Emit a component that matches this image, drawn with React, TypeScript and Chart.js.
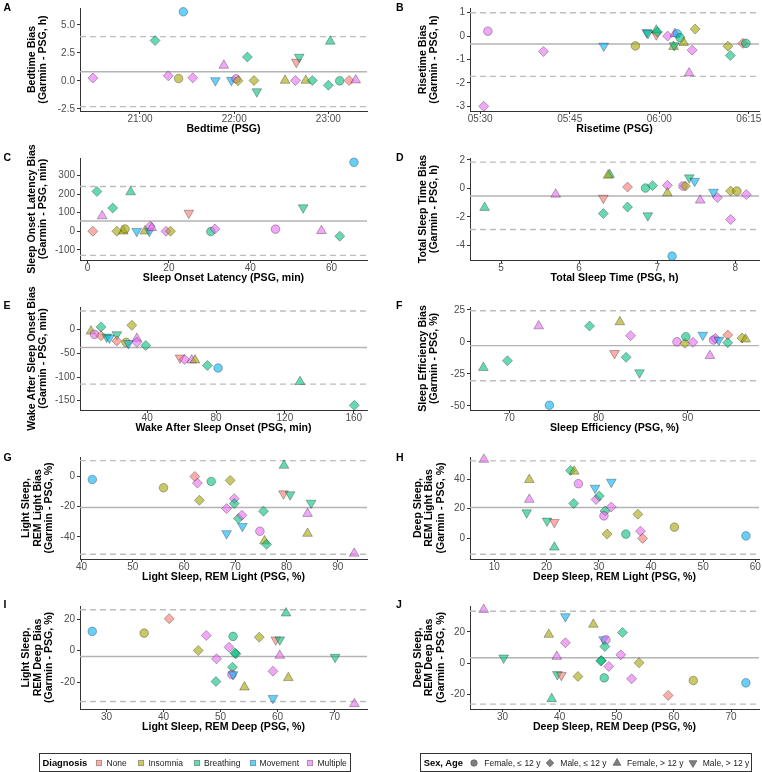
import React, { useEffect, useRef } from "react";
import { Chart, registerables } from "chart.js";

Chart.register(...registerables);

const FONT = "'Liberation Sans', Arial, Helvetica, sans-serif";
Chart.defaults.font.family = FONT;

// ---------- categories ----------
const DIAGNOSES = ["None", "Insomnia", "Breathing", "Movement", "Multiple"];
const SEX_AGE = ["Female, \u2264 12 y", "Male, \u2264 12 y", "Female, > 12 y", "Male, > 12 y"];

const N = 0, I = 1, B = 2, V = 3, M = 4; // diagnosis index
const F1 = 0, M1 = 1, F2 = 2, M2 = 3; // sex / age group index

type Pt = [number, number, number, number]; // [PSG value, bias, diagnosis, sex-age]

// ---------- data (A) Bedtime, hours of day ----------
const bedtimePts: Pt[] = [
  [20.5, 0.25, M, M1], [21.16, 3.6, B, M1], [21.46, 6.18, V, F1], [21.3, 0.45, M, M1],
  [21.41, 0.21, I, F1], [21.56, 0.27, M, M1], [21.8, 0.03, V, M2], [21.89, 1.38, M, F2],
  [21.97, 0.06, V, M2], [22.02, 0.18, M, F1], [22.04, 0.0, I, M1], [22.14, 2.13, B, M1],
  [22.21, 0.03, I, M1], [22.24, -0.96, B, M2], [22.54, 0.03, I, F2], [22.66, 1.68, N, M2],
  [22.69, 2.13, B, M2], [22.65, 0.03, M, M1], [22.76, 0.03, I, F2], [22.83, 0.03, B, M1],
  [23.02, 3.53, B, F2], [23.0, -0.39, B, M1], [23.12, 0.0, B, F1], [23.22, 0.03, N, M1],
  [23.29, 0.06, M, F2],
];
const bedtimeLoA = [0.82, 3.96, -2.31];
const bedtimeXRange = [20.363, 23.41];
const bedtimeYRange = [-2.7, 6.52];
const bedtimeXTicks = [21, 22, 23];
const bedtimeXLabels = ["21:00", "22:00", "23:00"];
const bedtimeYTicks = [-2.5, 0, 2.5, 5];
const bedtimeYLabels = ["-2.5", "0.0", "2.5", "5.0"];

// ---------- (B) Risetime, minutes after 05:00 ----------
const risetimePts: Pt[] = [
  [31.3, 0.21, M, F1], [30.6, -3.0, M, M1], [40.6, -0.66, M, M1], [50.7, -0.42, V, M2],
  [56.0, -0.42, I, F1], [57.9, 0.16, V, M2], [58.1, 0.12, B, M2], [59.5, 0.06, N, M2],
  [59.5, 0.25, B, F2], [59.7, 0.17, B, M1], [61.4, 0.0, M, M1], [62.6, 0.1, M, F2],
  [63.0, 0.1, V, F1], [62.4, -0.45, I, F2], [62.5, -0.4, B, M2], [63.5, -0.07, B, F1],
  [64.1, -0.28, I, F2], [66.0, 0.3, I, M1], [65.5, -0.6, M, M1], [65.0, -1.58, M, F2],
  [71.5, -0.43, I, M1], [71.9, -0.83, B, M1], [74.0, -0.31, N, M1], [74.5, -0.31, B, F1],
];
const risetimeLoA = [-0.34, 1.0, -1.72];
const risetimeXRange = [28.3, 76.7];
const risetimeYRange = [-3.2, 1.2];
const risetimeXTicks = [30, 45, 60, 75];
const risetimeXLabels = ["05:30", "05:45", "06:00", "06:15"];
const risetimeYTicks = [-3, -2, -1, 0, 1];
const risetimeYLabels = ["-3", "-2", "-1", "0", "1"];

// ---------- (C) Sleep onset latency ----------
const solPts: Pt[] = [
  [1.3, 0, N, M1], [2.3, 214, B, M1], [3.6, 82, M, F2], [6.2, 125, B, M1],
  [7.2, 0, I, M1], [8.8, 0, I, F2], [9.2, 12, I, F1], [10.6, 211, B, F2],
  [12.1, 0, V, M2], [14.1, 0, I, F2], [15.2, 0, V, M2], [15.4, 27, M, M1],
  [15.8, 18, M, F2], [19.3, 0, M, M1], [20.4, 0, I, M1], [24.9, 98, N, M2],
  [30.3, -2, B, F1], [31.3, 12, M, M1], [46.2, 11, M, F1], [53.0, 127, B, M2],
  [57.5, 2, M, F2], [62.0, -27, B, M1], [65.5, 371, V, F1],
];
const solLoA = [55, 241, -130];
const solXRange = [-1.85, 68.7];
const solYRange = [-155, 394];
const solXTicks = [0, 20, 40, 60];
const solXLabels = ["0", "20", "40", "60"];
const solYTicks = [-100, 0, 100, 200, 300];
const solYLabels = ["-100", "0", "100", "200", "300"];

// ---------- (D) Total sleep time ----------
const tstPts: Pt[] = [
  [4.79, -1.35, B, F2], [5.7, -0.42, M, F2], [6.31, -0.68, N, M2], [6.31, -1.77, B, M1],
  [6.39, 0.96, B, F2], [6.37, 0.91, I, F2], [6.62, 0.09, N, M1], [6.62, -1.31, B, M1],
  [6.85, 0.02, B, F1], [6.94, 0.19, B, M1], [6.88, -1.91, B, M2], [7.13, 0.21, M, M1],
  [7.13, -0.33, I, F2], [7.33, 0.16, M, F1], [7.36, 0.16, I, M1], [7.41, 0.75, B, M2],
  [7.48, 0.51, V, M2], [7.55, -0.84, M, F2], [7.19, -4.76, V, F1], [7.72, -0.26, V, M2],
  [7.77, -0.65, M, M1], [7.94, -0.19, I, M1], [8.02, -0.19, I, F1], [7.94, -2.19, M, M1],
  [8.14, -0.44, M, M1],
];
const tstLoA = [-0.54, 1.84, -2.89];
const tstXRange = [4.603, 8.303];
const tstYRange = [-5.03, 2.13];
const tstXTicks = [5, 6, 7, 8];
const tstXLabels = ["5", "6", "7", "8"];
const tstYTicks = [-4, -2, 0, 2];
const tstYLabels = ["-4", "-2", "0", "2"];

// ---------- (E) Wake after sleep onset ----------
const wasoPts: Pt[] = [
  [7.4, -3.6, I, F2], [9.4, -10, M, F1], [13.2, 5.6, B, M1], [13.2, -13, N, M1],
  [16.5, -15.5, B, M2], [18.1, -17.6, V, M2], [22.4, -10.5, B, M2], [22.4, -24, N, M1],
  [27.8, -27, I, F1], [29.1, -29, V, M2], [31.1, 9, I, M1], [34.0, -19, M, F2],
  [34.0, -27, M, M1], [39.2, -33.7, B, M1], [59.1, -59.6, N, M2], [61.7, -63, M, M1],
  [65.9, -64.5, M, F2], [67.8, -64.5, I, F2], [75.0, -75.7, B, M1], [81.2, -81, V, F1],
  [128.8, -110, B, F2], [160.3, -159.7, B, M1],
];
const wasoLoA = [-37.8, 39, -115];
const wasoXRange = [1.0, 167.7];
const wasoYRange = [-169.5, 47.5];
const wasoXTicks = [40, 80, 120, 160];
const wasoXLabels = ["40", "80", "120", "160"];
const wasoYTicks = [-150, -100, -50, 0];
const wasoYLabels = ["-150", "-100", "-50", "0"];

// ---------- (F) Sleep efficiency ----------
const sePts: Pt[] = [
  [67.1, -20.2, B, F2], [69.8, -14.8, B, M1], [73.3, 12.3, M, F2], [74.5, -49.6, V, F1],
  [79.0, 12.3, B, M1], [81.8, -9, N, M2], [82.4, 15.5, I, F2], [83.1, -12.1, B, M1],
  [83.6, 4.8, M, M1], [84.6, -24.1, B, M2], [88.8, 0, M, F1], [89.7, -1.2, I, M1],
  [89.8, 4, B, F1], [90.6, -0.4, M, M1], [92.5, -10.9, M, F2], [91.7, 5.3, V, M2],
  [92.9, 1.4, M, F1], [93.1, 2.7, M, M1], [93.5, 1.4, V, M2], [94.5, 5.3, N, M1],
  [94.5, -0.7, B, M1], [96.1, 3.0, I, M1], [96.5, 2.0, I, F2],
];
const seLoA = [-3.0, 24.3, -30.4];
const seXRange = [65.6, 98.0];
const seYRange = [-53.3, 27.2];
const seXTicks = [70, 80, 90];
const seXLabels = ["70", "80", "90"];
const seYTicks = [-50, -25, 0, 25];
const seYLabels = ["-50", "-25", "0", "25"];

// ---------- (G) Light sleep vs REM light ----------
const lightLightPts: Pt[] = [
  [42.1, -2, V, F1], [56.0, -7.5, I, F1], [62.1, 0, N, M1], [62.6, -4.4, M, M1],
  [63.0, -15.8, I, M1], [65.3, -3.3, B, F1], [69.0, -2.6, I, M1], [68.3, -21.3, M, M1],
  [69.8, -14.7, M, M1], [69.8, -18, B, M1], [70.6, -27.9, B, M1], [71.3, -25.7, M, M1],
  [68.3, -37.8, V, M2], [71.4, -33, V, M2], [74.8, -36.3, M, F1], [75.5, -23, B, M1],
  [75.7, -42.8, I, F2], [76.1, -45, B, M1], [79.5, 7.3, B, F2], [79.4, -11.4, N, M2],
  [80.7, -12, B, M2], [84.8, -17.6, B, M2], [84.1, -24.6, M, F2], [84.1, -37.8, I, F2],
  [93.2, -51, M, F2],
];
const lightLightLoA = [-20.6, 10.5, -51.6];
const lightLightXRange = [39.7, 95.7];
const lightLightYRange = [-54.7, 12.9];
const lightLightXTicks = [40, 50, 60, 70, 80, 90];
const lightLightXLabels = ["40", "50", "60", "70", "80", "90"];
const lightLightYTicks = [-40, -20, 0];
const lightLightYLabels = ["-40", "-20", "0"];

// ---------- (H) Deep sleep vs REM light ----------
const deepLightPts: Pt[] = [
  [8.0, 53.2, M, F2], [16.7, 39.6, I, F2], [16.7, 26.2, M, F2], [16.2, 17.4, B, M2],
  [20.1, 11.8, B, M2], [21.5, 10.9, N, M2], [21.5, -6.0, B, F2], [24.6, 45.8, B, M1],
  [25.3, 45.2, I, F2], [25.2, 23.5, B, M1], [26.1, 36.9, M, F1], [29.3, 34, V, M2],
  [32.4, 38, V, M2], [29.5, 26.2, M, M1], [30.1, 28.6, B, M1], [31.2, 18.5, B, M1],
  [32.4, 21.2, M, M1], [31.0, 15.2, M, F1], [31.6, 2.9, I, M1], [35.2, 2.9, B, F1],
  [37.5, 16.3, I, M1], [38.0, 4.9, M, M1], [38.4, 0, N, M1], [44.5, 7.6, I, F1],
  [58.2, 1.7, V, F1],
];
const deepLightLoA = [20.8, 52.3, -10.7];
const deepLightXRange = [5.34, 60.7];
const deepLightYRange = [-13.9, 54.9];
const deepLightXTicks = [10, 20, 30, 40, 50, 60];
const deepLightXLabels = ["10", "20", "30", "40", "50", "60"];
const deepLightYTicks = [0, 20, 40];
const deepLightYLabels = ["0", "20", "40"];

// ---------- (I) Light sleep vs REM deep ----------
const lightDeepPts: Pt[] = [
  [27.5, 12.3, V, F1], [36.6, 11.2, I, F1], [41.0, 20.4, N, M1], [46.1, 0.1, I, M1],
  [47.5, 9.7, M, M1], [49.3, -5.2, M, M1], [49.2, -19.7, B, M1], [51.5, 2.2, M, M1],
  [52.2, 9.1, B, F1], [52.1, -10.5, B, M1], [52.0, -15.2, M, F1], [52.2, -15.2, V, M2],
  [52.7, -2.0, B, M1], [52.5, -1.5, B, M1], [54.2, -23.3, I, F2], [56.8, 8.6, I, M1],
  [59.7, 7.0, N, M2], [60.4, 7.0, B, M2], [59.2, -13.1, M, M1], [59.2, -30.3, V, M2],
  [60.4, -3.1, M, F2], [61.5, 23.9, B, F2], [61.9, -17.3, I, F2], [70.1, -4.1, B, M2],
  [73.5, -33.9, M, F2],
];
const lightDeepLoA = [-3.7, 26.1, -32.4];
const lightDeepXRange = [25.35, 75.7];
const lightDeepYRange = [-37.2, 28.5];
const lightDeepXTicks = [30, 40, 50, 60, 70];
const lightDeepXLabels = ["30", "40", "50", "60", "70"];
const lightDeepYTicks = [-20, 0, 20];
const lightDeepYLabels = ["-20", "0", "20"];

// ---------- (J) Deep sleep vs REM deep ----------
const deepDeepPts: Pt[] = [
  [26.7, 34.3, M, F2], [30.2, 3.5, B, M2], [38.1, 18.4, I, F2], [38.6, -22.7, B, F2],
  [39.6, -7.1, B, M2], [40.3, -7.6, N, M2], [39.5, 4.3, M, F2], [41.0, 29.9, V, M2],
  [41.0, 13.1, M, M1], [43.2, -8.4, I, M1], [45.9, 24.8, I, F2], [47.3, 1.8, B, M1],
  [47.2, 1.5, B, M1], [47.7, 15.2, V, M2], [48.1, 15.0, M, F1], [47.9, 10.7, B, M1],
  [47.8, -9.3, B, F1], [48.6, -2.0, M, M1], [50.7, 5.4, M, M1], [51.0, 19.7, B, M1],
  [53.9, 0.3, I, M1], [52.6, -9.9, M, M1], [59.0, -20.5, N, M1], [63.4, -11.0, I, F1],
  [72.6, -12.5, V, F1],
];
const deepDeepLoA = [3.5, 33.2, -26.1];
const deepDeepXRange = [24.3, 74.9];
const deepDeepYRange = [-29.2, 36.6];
const deepDeepXTicks = [30, 40, 50, 60, 70];
const deepDeepXLabels = ["30", "40", "50", "60", "70"];
const deepDeepYTicks = [-20, 0, 20];
const deepDeepYLabels = ["-20", "0", "20"];

// ---------- styles ----------
const DIAG_FILL = [
  "rgba(248,118,109,0.6)",
  "rgba(163,165,0,0.6)",
  "rgba(0,191,125,0.6)",
  "rgba(0,176,246,0.6)",
  "rgba(231,107,243,0.6)",
];
const POINT_STROKE = "rgba(0,0,0,0.42)";
const SHAPE_STYLE = ["circle", "rectRot", "triangle", "triangle"];
const SHAPE_ROT = [0, 0, 0, 180];
const SHAPE_R = [4.3, 5.0, 5.6, 5.6];

const W = 762;
const H = 772;
const ROW_TOP = [8, 158, 307, 457, 606];
const ROW_BOTTOM = [111, 260, 410, 559, 709];
const COL_LEFT = [80, 470];
const COL_RIGHT = [367, 759];
const LETTER_X = [3.5, 396];
const LETTER_Y = [6.5, 157, 305, 456.5, 604];
const TITLE_SIZE = 10.6;
const TITLE_LH = 11.2;
const XSCALE_H = 18 + TITLE_LH / 2;

type Spec = {
  letter: string; row: number; col: number; pts: Pt[]; loa: number[];
  xr: number[]; yr: number[]; xt: number[]; xl: string[]; yt: number[]; yl: string[];
  xTitle: string; yTitle: string[];
};

const PANELS: Spec[] = [
  { letter: "A", row: 0, col: 0, pts: bedtimePts, loa: bedtimeLoA, xr: bedtimeXRange, yr: bedtimeYRange,
    xt: bedtimeXTicks, xl: bedtimeXLabels, yt: bedtimeYTicks, yl: bedtimeYLabels,
    xTitle: "Bedtime (PSG)", yTitle: ["Bedtime Bias", "(Garmin - PSG, h)"] },
  { letter: "B", row: 0, col: 1, pts: risetimePts, loa: risetimeLoA, xr: risetimeXRange, yr: risetimeYRange,
    xt: risetimeXTicks, xl: risetimeXLabels, yt: risetimeYTicks, yl: risetimeYLabels,
    xTitle: "Risetime (PSG)", yTitle: ["Risetime Bias", "(Garmin - PSG, h)"] },
  { letter: "C", row: 1, col: 0, pts: solPts, loa: solLoA, xr: solXRange, yr: solYRange,
    xt: solXTicks, xl: solXLabels, yt: solYTicks, yl: solYLabels,
    xTitle: "Sleep Onset Latency (PSG, min)", yTitle: ["Sleep Onset Latency Bias", "(Garmin - PSG, min)"] },
  { letter: "D", row: 1, col: 1, pts: tstPts, loa: tstLoA, xr: tstXRange, yr: tstYRange,
    xt: tstXTicks, xl: tstXLabels, yt: tstYTicks, yl: tstYLabels,
    xTitle: "Total Sleep Time (PSG, h)", yTitle: ["Total Sleep Time Bias", "(Garmin - PSG, h)"] },
  { letter: "E", row: 2, col: 0, pts: wasoPts, loa: wasoLoA, xr: wasoXRange, yr: wasoYRange,
    xt: wasoXTicks, xl: wasoXLabels, yt: wasoYTicks, yl: wasoYLabels,
    xTitle: "Wake After Sleep Onset (PSG, min)", yTitle: ["Wake After Sleep Onset Bias", "(Garmin - PSG, min)"] },
  { letter: "F", row: 2, col: 1, pts: sePts, loa: seLoA, xr: seXRange, yr: seYRange,
    xt: seXTicks, xl: seXLabels, yt: seYTicks, yl: seYLabels,
    xTitle: "Sleep Efficiency (PSG, %)", yTitle: ["Sleep Efficiency Bias", "(Garmin - PSG, %)"] },
  { letter: "G", row: 3, col: 0, pts: lightLightPts, loa: lightLightLoA, xr: lightLightXRange, yr: lightLightYRange,
    xt: lightLightXTicks, xl: lightLightXLabels, yt: lightLightYTicks, yl: lightLightYLabels,
    xTitle: "Light Sleep, REM Light (PSG, %)", yTitle: ["Light Sleep,", "REM Light Bias", "(Garmin - PSG, %)"] },
  { letter: "H", row: 3, col: 1, pts: deepLightPts, loa: deepLightLoA, xr: deepLightXRange, yr: deepLightYRange,
    xt: deepLightXTicks, xl: deepLightXLabels, yt: deepLightYTicks, yl: deepLightYLabels,
    xTitle: "Deep Sleep, REM Light (PSG, %)", yTitle: ["Deep Sleep,", "REM Light Bias", "(Garmin - PSG, %)"] },
  { letter: "I", row: 4, col: 0, pts: lightDeepPts, loa: lightDeepLoA, xr: lightDeepXRange, yr: lightDeepYRange,
    xt: lightDeepXTicks, xl: lightDeepXLabels, yt: lightDeepYTicks, yl: lightDeepYLabels,
    xTitle: "Light Sleep, REM Deep (PSG, %)", yTitle: ["Light Sleep,", "REM Deep Bias", "(Garmin - PSG, %)"] },
  { letter: "J", row: 4, col: 1, pts: deepDeepPts, loa: deepDeepLoA, xr: deepDeepXRange, yr: deepDeepYRange,
    xt: deepDeepXTicks, xl: deepDeepXLabels, yt: deepDeepYTicks, yl: deepDeepYLabels,
    xTitle: "Deep Sleep, REM Deep (PSG, %)", yTitle: ["Deep Sleep,", "REM Deep Bias", "(Garmin - PSG, %)"] },
];

function yTitleFirstX(s: Spec) {
  if (s.col === 0) return s.yTitle.length === 3 ? 26.5 : 32;
  return s.yTitle.length === 3 ? 418.3 : 423;
}

function Panel({ spec }: { spec: Spec }) {
  const ref = useRef<HTMLCanvasElement>(null);
  useEffect(() => {
    const top = ROW_TOP[spec.row];
    const bottom = ROW_BOTTOM[spec.row];
    const left = COL_LEFT[spec.col];
    const right = COL_RIGHT[spec.col];
    const hline = (v: number, dashed: boolean) => ({
      data: [{ x: spec.xr[0], y: v }, { x: spec.xr[1], y: v }],
      showLine: true,
      pointRadius: 0,
      borderColor: dashed ? "#bdbdbd" : "#b3b3b3",
      borderWidth: 1.4,
      borderDash: dashed ? [6, 4] : [],
      order: 1,
    });
    const yTitlePlugin = {
      id: "yTitle" + spec.letter,
      afterDraw(chart: any) {
        const { ctx, chartArea } = chart;
        const cy = (chartArea.top + chartArea.bottom) / 2;
        const x0 = yTitleFirstX(spec);
        ctx.save();
        ctx.fillStyle = "#000";
        ctx.font = `bold ${TITLE_SIZE}px ${FONT}`;
        ctx.textAlign = "center";
        ctx.textBaseline = "middle";
        spec.yTitle.forEach((t, i) => {
          ctx.save();
          ctx.translate(x0 + i * TITLE_LH, cy);
          ctx.rotate(-Math.PI / 2);
          ctx.fillText(t, 0, 0);
          ctx.restore();
        });
        ctx.restore();
      },
    };
    const tickFont = { size: 10, lineHeight: 1 };
    const chart = new Chart(ref.current!, {
      type: "scatter",
      data: {
        datasets: [
          {
            data: spec.pts.map((p) => ({ x: p[0], y: p[1] })),
            pointStyle: spec.pts.map((p) => SHAPE_STYLE[p[3]]),
            pointRotation: spec.pts.map((p) => SHAPE_ROT[p[3]]),
            pointRadius: spec.pts.map((p) => SHAPE_R[p[3]]),
            pointBackgroundColor: spec.pts.map((p) => DIAG_FILL[p[2]]),
            pointBorderColor: POINT_STROKE,
            pointBorderWidth: 0.7,
            clip: false,
            order: 0,
          } as any,
          hline(spec.loa[0], false) as any,
          hline(spec.loa[1], true) as any,
          hline(spec.loa[2], true) as any,
        ],
      },
      options: {
        animation: false,
        responsive: false,
        devicePixelRatio: 1,
        events: [],
        layout: {
          autoPadding: false,
          padding: { left: 0, top, right: W - right, bottom: H - bottom - XSCALE_H },
        },
        plugins: { legend: { display: false }, tooltip: { enabled: false } },
        scales: {
          x: {
            type: "linear",
            min: spec.xr[0],
            max: spec.xr[1],
            afterBuildTicks: (s: any) => { s.ticks = spec.xt.map((v) => ({ value: v })); },
            afterFit: (s: any) => { s.height = XSCALE_H; s.paddingLeft = 0; s.paddingRight = 0; },
            ticks: {
              autoSkip: false, maxRotation: 0, padding: 0, color: "#4d4d4d", font: tickFont,
              callback: (v: any) => spec.xl[spec.xt.indexOf(Number(v))] ?? "",
            },
            grid: { display: true, drawOnChartArea: false, drawTicks: true, tickLength: 3, color: "#333333", lineWidth: 1 },
            border: { display: true, color: "#333333", width: 1 },
            title: {
              display: true, text: spec.xTitle, color: "#000",
              font: { size: TITLE_SIZE, weight: "bold", lineHeight: TITLE_LH / TITLE_SIZE }, padding: 0,
            },
          },
          y: {
            type: "linear",
            min: spec.yr[0],
            max: spec.yr[1],
            afterBuildTicks: (s: any) => { s.ticks = spec.yt.map((v) => ({ value: v })); },
            afterFit: (s: any) => { s.width = left; s.paddingTop = 0; s.paddingBottom = 0; },
            ticks: {
              autoSkip: false, padding: 2, color: "#4d4d4d", font: tickFont,
              callback: (v: any) => spec.yl[spec.yt.indexOf(Number(v))] ?? "",
            },
            grid: { display: true, drawOnChartArea: false, drawTicks: true, tickLength: 3, color: "#333333", lineWidth: 1 },
            border: { display: true, color: "#333333", width: 1 },
            title: { display: false },
          },
        },
      } as any,
      plugins: [yTitlePlugin],
    });
    return () => chart.destroy();
  }, [spec]);
  return (
    <canvas ref={ref} width={W} height={H}
      style={{ position: "absolute", left: 0, top: 0, width: W, height: H }} />
  );
}

function KeyShape({ kind, fill, stroke }: { kind: string; fill: string; stroke: string }) {
  const c = 5;
  let el: any;
  if (kind === "square") el = <rect x={2.3} y={2.3} width={5.4} height={5.4} fill={fill} stroke={stroke} strokeWidth={0.7} />;
  else if (kind === "circle") el = <circle cx={c} cy={c} r={3.2} fill={fill} stroke={stroke} strokeWidth={0.7} />;
  else if (kind === "diamond") el = <polygon points={`${c},${c - 3.8} ${c + 3.8},${c} ${c},${c + 3.8} ${c - 3.8},${c}`} fill={fill} stroke={stroke} strokeWidth={0.7} />;
  else if (kind === "up") el = <polygon points={`${c},${c - 4.4} ${c + 3.9},${c + 2.3} ${c - 3.9},${c + 2.3}`} fill={fill} stroke={stroke} strokeWidth={0.7} />;
  else el = <polygon points={`${c},${c + 4.4} ${c + 3.9},${c - 2.3} ${c - 3.9},${c - 2.3}`} fill={fill} stroke={stroke} strokeWidth={0.7} />;
  return <svg width={10} height={10} style={{ display: "block" }}>{el}</svg>;
}

function LegendBox({ left, width, title, titleX, keys, texts, keyX, textX }: any) {
  const top = 753;
  const height = 19;
  const cell = (x: number, child: any, key: string, extra: any = {}) => (
    <div key={key} style={{
      position: "absolute", left: x - left - 1, top: 0, height: height - 2,
      display: "flex", alignItems: "center", whiteSpace: "nowrap", ...extra,
    }}>{child}</div>
  );
  return (
    <div style={{
      position: "absolute", left, top, width, height, border: "1px solid #333",
      boxSizing: "border-box", fontFamily: FONT, color: "#1a1a1a",
    }}>
      {cell(titleX, title, "t", { fontWeight: "bold", fontSize: 9.4, color: "#000" })}
      {keys.map((k: any, i: number) => cell(keyX[i] - 5, k, "k" + i))}
      {texts.map((t: string, i: number) => cell(textX[i], t, "x" + i, { fontSize: 8.5 }))}
    </div>
  );
}

export default function App() {
  return (
    <div style={{
      position: "absolute", left: 0, top: 0, width: W, height: H, background: "#fff",
      overflow: "hidden", fontFamily: FONT,
    }}>
      {PANELS.map((p) => <Panel key={p.letter} spec={p} />)}
      {PANELS.map((p) => (
        <div key={"L" + p.letter} style={{
          position: "absolute", left: LETTER_X[p.col], top: LETTER_Y[p.row] - 5,
          fontSize: 10.5, lineHeight: "10.5px", fontWeight: "bold", color: "#000",
        }}>{p.letter}</div>
      ))}
      <LegendBox
        left={39} width={312} title="Diagnosis" titleX={42.5}
        keys={DIAGNOSES.map((d, i) => <KeyShape key={d} kind="square" fill={DIAG_FILL[i]} stroke="rgba(0,0,0,0.4)" />)}
        texts={DIAGNOSES}
        keyX={[98.5, 140.5, 196.5, 252.5, 310]}
        textX={[106.5, 148.5, 204, 259.5, 317.5]}
      />
      <LegendBox
        left={420} width={332} title="Sex, Age" titleX={423.7}
        keys={["circle", "diamond", "up", "down"].map((k) => <KeyShape key={k} kind={k} fill="#7f7f7f" stroke="#5a5a5a" />)}
        texts={SEX_AGE}
        keyX={[474.3, 550.3, 617, 692.7]}
        textX={[484.3, 560.3, 627, 702.7]}
      />
    </div>
  );
}
